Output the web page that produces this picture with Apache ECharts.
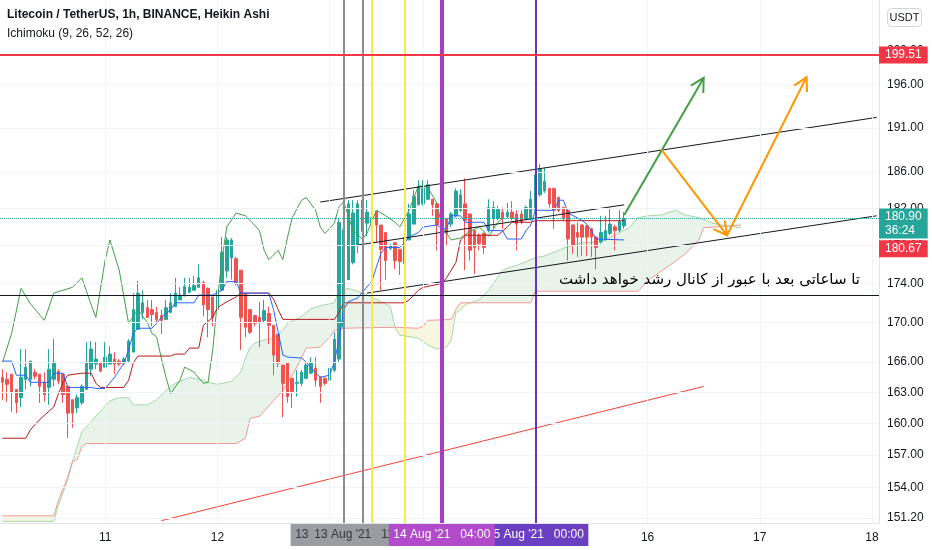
<!DOCTYPE html>
<html>
<head>
<meta charset="utf-8">
<title>LTCUSDT 1h Heikin Ashi</title>
<script src="https://cdn.jsdelivr.net/npm/echarts@6/dist/echarts.min.js"></script>
<style>html,body{margin:0;padding:0;background:#fff;}</style>
</head>
<body>
<div id="main" style="width:932px;height:550px;"></div>
<script type="text/javascript">
// hourly slots (a 4h gap on 13 Aug), index = slot number
var hours = [];
for (var h = 0; h < 188; h++) hours.push(String(h));
var dayIdx = [22, 46, 138, 162, 186];
var dayNames = ['11', '12', '16', '17', '18'];
var dayGrid = [22, 46, 70, 90, 114, 138, 162, 186];
var tickVals = [200, 196, 191, 186, 182, 178, 174, 170, 166, 163, 160, 157, 154, 151.2];

// Heikin Ashi candles: [open, close, low, high]
var candles = [
[164.5,164.0,162.3,165.3],[164.3,163.8,162.1,165.0],[164.8,163.0,161.1,164.8],[163.3,162.0,161.0,163.3],
[162.5,164.5,161.6,167.3],[164.3,165.5,163.3,167.3],[164.3,166.1,163.6,166.1],[165.0,164.6,164.3,165.3],
[164.8,163.6,162.0,164.8],[164.0,162.8,162.1,165.0],[163.5,165.3,161.8,167.3],[164.3,166.0,163.6,168.3],
[165.1,164.1,163.8,165.3],[164.8,162.8,162.0,164.8],[163.6,161.0,158.6,163.6],[162.3,161.0,159.6,162.3],
[161.5,162.5,161.0,162.8],[162.0,163.6,161.8,163.8],[163.3,166.0,163.3,168.0],[165.3,167.3,164.6,168.1],
[165.8,166.3,165.3,168.0],[166.0,165.1,165.0,166.0],[165.5,166.5,165.5,168.0],[165.8,166.8,165.8,167.6],
[166.3,165.8,164.8,167.0],[166.1,165.8,165.6,166.3],[165.9,166.3,165.7,166.5],[166.1,168.1,165.9,168.3],
[167.0,171.3,167.0,173.0],[169.3,173.0,169.3,174.3],[171.0,172.0,170.3,173.3],[171.5,170.5,170.5,172.3],
[171.3,170.8,169.6,172.3],[171.0,170.3,170.0,171.6],[170.7,170.2,168.8,171.3],[170.3,171.5,170.3,172.3],
[171.0,172.0,171.0,173.0],[171.6,173.0,171.6,174.6],[172.3,172.8,172.3,173.6],[172.7,173.7,172.7,174.6],
[173.1,173.6,173.0,174.6],[173.3,173.8,173.3,174.8],[173.6,174.6,173.6,176.0],[174.1,171.8,170.6,174.3],
[173.5,171.3,168.5,173.6],[172.6,170.5,169.6,172.6],[171.3,173.3,170.1,173.5],[173.3,177.3,173.3,178.9],
[175.3,178.6,174.6,178.9],[176.7,178.6,174.4,178.8],[176.6,174.0,173.8,176.8],[175.4,170.5,167.2,175.4],
[173.0,169.5,168.5,173.0],[171.3,169.0,168.8,171.3],[170.7,169.9,169.6,170.7],[170.5,170.0,167.5,172.1],
[170.2,171.2,170.0,172.3],[170.9,169.7,167.8,171.6],[169.7,166.7,164.7,169.7],[168.8,165.9,165.5,168.8],
[165.7,163.9,160.6,165.7],[165.9,162.6,162.0,165.9],[164.4,163.1,161.5,164.4],[163.9,164.0,162.6,165.2],
[163.9,165.0,163.6,165.2],[164.4,165.7,164.3,166.0],[164.9,165.9,164.8,166.5],[165.4,164.2,163.6,166.5],
[164.5,163.6,162.0,164.6],[164.4,163.9,163.7,164.5],[164.2,165.4,164.0,166.2],[165.2,168.3,165.0,169.0],
[166.3,180.5,166.0,181.0],[169.5,179.7,168.0,181.2],[174.4,182.5,174.4,182.9],[176.2,181.5,176.0,182.9],
[178.0,182.5,177.2,182.9],[179.5,182.9,176.5,183.1],[180.4,181.6,179.0,182.9],[180.4,181.0,180.3,181.6],
[181.7,180.2,178.3,181.7],[180.2,177.6,173.3,180.2],[179.4,176.4,174.4,179.4],[177.7,178.0,177.5,178.2],
[178.3,176.4,175.5,178.3],[177.6,176.3,174.9,177.6],[176.1,178.9,176.1,180.3],[178.6,181.4,178.6,182.5],
[180.3,183.3,180.3,184.0],[182.4,184.4,182.4,185.1],[182.5,184.2,182.3,185.1],[183.0,184.6,182.9,185.1],
[183.0,182.4,181.2,183.0],[182.5,180.2,177.5,182.6],[181.6,179.6,177.2,181.6],[180.9,179.3,178.0,180.9],
[180.3,181.4,180.0,181.6],[181.2,183.9,181.0,184.2],[181.8,183.5,181.6,184.1],[182.5,180.7,175.4,185.3],
[181.4,177.5,176.4,181.4],[179.6,177.8,175.0,179.6],[179.1,178.2,177.5,179.3],[179.3,177.8,177.1,179.4],
[179.6,182.1,179.4,183.0],[180.9,182.1,179.8,182.8],[180.9,181.9,180.7,182.3],[181.6,180.9,179.8,182.1],
[181.1,181.6,180.9,182.6],[181.6,180.9,180.7,182.8],[181.4,180.3,177.5,181.8],[181.4,180.5,180.3,181.8],
[180.9,182.1,180.7,182.3],[180.9,183.0,180.7,183.9],[181.8,185.7,181.6,186.7],[183.5,186.4,183.3,186.9],
[183.9,185.0,183.7,186.5],[184.2,182.5,182.1,184.3],[184.2,181.8,179.8,184.3],[183.2,181.8,181.6,183.3],
[182.1,181.0,180.7,182.2],[181.8,178.7,176.4,181.9],[180.2,178.0,177.1,180.3],[179.4,178.9,176.8,180.5],
[180.2,178.9,176.9,180.3],[180.1,178.9,176.9,180.2],[179.8,178.9,176.8,179.9],[178.9,177.8,175.5,179.0],
[178.4,179.4,178.2,181.2],[178.7,179.6,178.5,181.2],[179.3,180.3,179.1,182.1],[180.0,179.6,177.5,180.2],
[179.6,180.6,179.4,181.8],[180.1,180.9,179.8,181.6]
];

// Ichimoku lines, [slot, price]
var tenkan = [[0,166.1],[2,166.1],[3,164.7],[5,164.7],[6,164.0],[10,164.0],[11,164.9],[13,164.9],[14,163.5],[19,163.5],
[20,163.4],[22,163.4],[24,164.5],[26,165.9],[27,167.2],[28,168.9],[29,169.4],[32,169.4],[33,169.9],[34,170.5],
[36,171.3],[37,172.0],[41,172.0],[42,172.8],[45,172.8],[47,173.3],[48,174.2],[50,174.2],[51,173.0],[57,173.0],
[58,171.3],[59,169.0],[60,166.7],[61,166.5],[64,166.4],[65,166.0],[66,165.4],[68,164.5],[70,164.7],[71,166.0],
[72,168.2],[73,171.3],[74,172.1],[76,172.5],[77,173.1],[79,174.2],[80,175.7],[81,177.2],[82,177.8],[85,177.8],
[86,178.3],[87,178.9],[89,179.4],[90,180.0],[93,180.2],[94,179.8],[95,179.8],[96,181.2],[98,181.2],[99,180.5],
[103,180.5],[104,179.6],[107,179.6],[108,178.7],[111,178.7],[112,179.6],[113,180.2],[114,181.8],[118,181.8],
[119,182.9],[120,182.9],[121,181.5],[124,180.7],[125,180.3],[126,179.6],[127,178.7],[133,178.6]];
var kijun = [[0,158.6],[5,158.6],[6,159.4],[7,159.9],[8,160.4],[11,161.6],[12,162.9],[13,164.0],[14,164.7],[17,164.9],
[19,164.9],[20,163.9],[21,163.5],[26,163.5],[27,164.2],[28,165.9],[29,166.6],[36,166.6],[37,166.8],[39,166.8],
[40,167.4],[42,167.4],[43,169.7],[45,170.5],[46,171.5],[48,172.1],[50,172.6],[51,173.0],[57,173.0],[58,172.4],
[59,171.3],[60,170.3],[71,170.3],[72,171.0],[73,172.0],[86,172.0],[87,172.3],[89,173.3],[90,173.6],[94,174.0],
[95,174.6],[96,175.4],[97,176.2],[98,178.6],[99,179.1],[106,179.1],[108,180.0],[109,180.5],[113,180.5],
[114,180.67],[133,180.67]];
var chikou = [[0,165.9],[2,168.9],[4,173.5],[6,171.9],[9,170.2],[11,173.0],[13,173.3],[15,173.6],[17,174.6],[19,171.8],
[20,170.5],[22,176.5],[23,178.6],[25,175.4],[27,169.9],[29,171.3],[31,170.0],[32,168.9],[33,168.5],[34,166.4],
[35,164.5],[36,162.9],[38,164.2],[39,165.5],[41,165.0],[43,163.9],[44,164.0],[45,167.2],[46,172.3],[47,176.6],
[48,180.0],[50,181.5],[52,181.2],[53,180.7],[55,179.6],[56,177.5],[57,176.5],[59,177.5],[60,176.5],[61,178.9],
[62,181.0],[64,182.9],[65,183.2],[67,181.8],[68,180.0],[69,179.3],[71,180.4],[72,182.2],[73,182.7],[74,181.2],
[75,179.6],[77,178.7],[78,179.3],[80,181.8],[82,181.2],[84,180.5],[85,180.0],[87,181.8],[89,184.5],[91,184.3],
[93,182.5],[94,180.0],[95,179.3],[96,178.6],[98,178.8],[100,179.5],[102,180.0],[104,179.0],[106,180.5],[107,180.9]];
var spanA = [[0,150.9],[11,150.9],[12,152.4],[14,154.7],[15,156.4],[17,159.2],[19,160.2],[21,161.2],[23,162.2],
[25,162.5],[27,162.5],[28,161.8],[31,161.8],[33,162.3],[35,163.2],[37,163.9],[40,164.5],[43,164.2],[44,164.0],
[46,163.8],[49,164.1],[51,165.0],[52,166.4],[53,167.5],[54,167.9],[56,168.2],[58,168.4],[60,169.2],[61,169.9],
[64,170.6],[65,171.0],[66,171.4],[68,171.7],[71,172.0],[72,173.2],[74,173.5],[76,173.2],[79,172.6],[81,172.1],
[83,171.6],[84,169.5],[85,168.7],[89,168.4],[91,167.7],[93,167.3],[95,167.5],[96,168.2],[97,171.0],[98,171.3],
[99,171.8],[100,172.0],[102,172.3],[104,173.3],[106,174.7],[107,175.4],[108,175.6],[110,175.9],[112,176.3],
[114,176.7],[116,176.9],[119,177.5],[121,177.9],[124,178.3],[128,178.4],[130,178.9],[132,179.4],[134,179.9],
[136,181.0],[138,181.2],[141,181.3],[144,181.8],[146,181.3],[149,181.0],[152,180.4],[155,180.1],[158,179.9]];
var spanB = [[0,151.4],[11,151.4],[12,152.8],[14,155.0],[15,156.4],[16,156.6],[17,157.8],[18,158.1],[50,158.1],
[52,158.6],[53,160.5],[55,160.7],[56,161.2],[58,162.2],[60,163.2],[62,164.7],[63,165.5],[65,167.4],[68,167.5],
[70,168.5],[71,169.2],[73,169.4],[84,169.5],[89,169.4],[90,169.6],[91,170.2],[96,170.3],[97,171.3],[98,172.0],
[100,172.0],[113,172.0],[114,173.2],[136,173.2],[138,174.3],[143,176.0],[146,177.1],[149,178.6],[150,179.9],
[155,180.1],[158,180.2]];
// cloud pieces between crossings: [from, to, bullish?]
var cloudSegs = [[0,15,0],[15,84,1],[84,100,0],[100,155,1],[155,158,0]];

// drawings
var channelTop = [[68,182.7],[187,192.2]];
var channelMid = [[76,178.05],[133,182.4]];
var channelLow = [[78,173.0],[187,181.2]];
var redTrend = [[34,150.96],[150,163.6]];
var greenArrows = [[[133,181.3],[150,196.8]]];
var orangeArrows = [[[141,188.5],[155,179.1]],[[155,179.1],[172,196.9]]];
var resistance = 199.51, support = 172.8;
var lastPrice = 180.90, kijunLast = 180.67;
var timeMarks = [[73,"13 Aug '21   07:00"],[77,"13 Aug '21   11:00"],[114,"15 Aug '21   00:00"],[94,"14 Aug '21   04:00"]];
var yellowMarks = [79, 86];

var FONT = 'Liberation Sans';
var myChart = echarts.init(document.getElementById('main'));

function cloudItem(params, api) {
    var seg = cloudSegs[params.dataIndex];
    var pts = [];
    spanA.forEach(function (p) { if (p[0] >= seg[0] && p[0] <= seg[1]) pts.push(api.coord(p)); });
    spanB.slice().reverse().forEach(function (p) { if (p[0] >= seg[0] && p[0] <= seg[1]) pts.push(api.coord(p)); });
    return {
        type: 'polygon',
        shape: {points: pts},
        style: {fill: seg[2] ? 'rgba(67,160,71,0.12)' : 'rgba(225,212,110,0.22)', stroke: null}
    };
}

function arrowRenderer(list, color) {
    return function (params, api) {
        var seg = list[params.dataIndex];
        var a = api.coord(seg[0]), b = api.coord(seg[1]);
        var ang = Math.atan2(b[1] - a[1], b[0] - a[0]);
        var len = 15, spread = 0.5;
        var h1 = [b[0] - len * Math.cos(ang - spread), b[1] - len * Math.sin(ang - spread)];
        var h2 = [b[0] - len * Math.cos(ang + spread), b[1] - len * Math.sin(ang + spread)];
        return {
            type: 'group',
            children: [
                {type: 'line', shape: {x1: a[0], y1: a[1], x2: b[0], y2: b[1]}, style: {stroke: color, lineWidth: 2}},
                {type: 'polyline', shape: {points: [h1, b, h2]}, style: {stroke: color, lineWidth: 2, fill: null}}
            ]
        };
    };
}

function plainLine(name, data, color, width, z) {
    return {
        name: name, type: 'line', data: data, symbol: 'none', z: z, clip: true,
        lineStyle: {color: color, width: width}, silent: true
    };
}

var gridMarks = tickVals.map(function (v) {
    return {yAxis: v, label: {formatter: v.toFixed(2)}};
}).concat(dayGrid.map(function (d) {
    return {xAxis: d, label: {show: false}};
}));

var vMarks = yellowMarks.map(function (d) {
    return {xAxis: d, lineStyle: {color: '#f9e94a', width: 2, type: 'solid'}, label: {show: false}};
}).concat(timeMarks.map(function (t) {
    var col, bg, fg, w;
    if (t[0] === 94) { col = '#a63dc2'; bg = '#b14bcb'; fg = '#fff'; w = 4; }
    else if (t[0] === 114) { col = '#5f37b8'; bg = '#6a3fc1'; fg = '#fff'; w = 2; }
    else { col = '#8a8c91'; bg = '#9b9da3'; fg = '#33363d'; w = 2; }
    return {
        xAxis: t[0],
        lineStyle: {color: col, width: w, type: 'solid'},
        label: {show: true, position: 'start', distance: 1, formatter: t[1], backgroundColor: bg,
            color: fg, padding: [5, 6, 5, 6], fontSize: 12, fontFamily: FONT, width: 94, align: 'center'}
    };
}));

var option = {
    animation: false,
    backgroundColor: '#ffffff',
    title: {
        text: 'Litecoin / TetherUS, 1h, BINANCE, Heikin Ashi',
        subtext: 'Ichimoku (9, 26, 52, 26)',
        left: 7, top: 9, padding: 0, itemGap: 7,
        textStyle: {fontSize: 12, fontWeight: 'bold', color: '#131722', fontFamily: FONT},
        subtextStyle: {fontSize: 12, color: '#131722', fontFamily: FONT}
    },
    grid: {left: 0, right: 53, top: 0, bottom: 27, containLabel: false},
    xAxis: {
        type: 'category',
        data: hours,
        boundaryGap: true,
        axisLine: {show: true, lineStyle: {color: '#e0e3eb'}},
        axisTick: {show: false},
        splitLine: {show: false},
        axisLabel: {
            interval: function (i) { return dayIdx.indexOf(i) >= 0; },
            formatter: function (v, i) { var k = dayIdx.indexOf(i); return k >= 0 ? dayNames[k] : ''; },
            color: '#131722', fontSize: 12, fontFamily: FONT, margin: 9
        }
    },
    yAxis: {
        type: 'log', logBase: 10, min: 150.75, max: 206.2, position: 'right',
        axisLine: {show: true, lineStyle: {color: '#e0e3eb'}},
        axisTick: {show: false}, axisLabel: {show: false}, splitLine: {show: false}
    },
    graphic: [
        {type: 'group', right: 10, top: 8, children: [
            {type: 'rect', shape: {x: 0, y: 0, width: 34, height: 18, r: 4},
             style: {fill: '#fff', stroke: '#d1d4dc', lineWidth: 1}},
            {type: 'text', x: 17, y: 9, style: {text: 'USDT', fill: '#131722', font: '11px ' + FONT,
             textAlign: 'center', textVerticalAlign: 'middle'}}
        ]},
        {type: 'text', right: 72, top: 273, z: 20,
         style: {text: 'تا ساعاتی بعد با عبور از کانال رشد خواهد داشت', fill: '#000000',
                 font: '15px DejaVu Sans'}}
    ],
    series: [
        {
            name: 'grid', type: 'line', data: [], z: 0, silent: true,
            markLine: {
                silent: true, symbol: 'none', animation: false,
                lineStyle: {color: '#f0f3fa', width: 1, type: 'solid'},
                label: {position: 'end', distance: 8, color: '#131722', fontSize: 12, fontFamily: FONT},
                data: gridMarks
            }
        },
        {
            name: 'cloud', type: 'custom', z: 1, silent: true, clip: true,
            data: cloudSegs.map(function (s) { return [s[0], 160]; }),
            renderItem: cloudItem
        },
        plainLine('Lead 1', spanA, '#a5d6a7', 1, 2),
        plainLine('Lead 2', spanB, '#ef9a9a', 1, 2),
        plainLine('trend', redTrend, '#f44336', 1, 2),
        {
            name: 'LTCUSDT', type: 'candlestick', data: candles, z: 3, barWidth: 3,
            itemStyle: {color: '#26a69a', color0: '#ef5350', borderColor: '#26a69a', borderColor0: '#ef5350', borderWidth: 1}
        },
        plainLine('Lagging Span', chikou, '#43a047', 1, 4),
        plainLine('Base Line', kijun, '#b71c1c', 1, 4),
        plainLine('Conversion Line', tenkan, '#2962ff', 1, 4),
        plainLine('channel top', channelTop, '#131722', 1, 4),
        plainLine('channel mid', channelMid, '#131722', 1, 4),
        plainLine('channel low', channelLow, '#131722', 1, 4),
        {
            name: 'verticals', type: 'line', data: [], z: 5, silent: true,
            markLine: {silent: true, symbol: 'none', animation: false, data: vMarks}
        },
        {
            name: 'up', type: 'custom', z: 6, silent: true, clip: false,
            data: greenArrows.map(function (s) { return s[0]; }),
            renderItem: arrowRenderer(greenArrows, '#43a047')
        },
        {
            name: 'path', type: 'custom', z: 6, silent: true, clip: false,
            data: orangeArrows.map(function (s) { return s[0]; }),
            renderItem: arrowRenderer(orangeArrows, '#ff9800')
        },
        {
            name: 'levels', type: 'line', data: [], z: 7, silent: true,
            markLine: {
                silent: true, symbol: 'none', animation: false,
                label: {position: 'end', distance: 0, fontSize: 12, fontFamily: FONT, color: '#fff', padding: [3, 6, 2, 6]},
                data: [
                    {yAxis: support, lineStyle: {color: '#131722', width: 1, type: 'solid'}, label: {show: false}},
                    {yAxis: resistance, lineStyle: {color: '#f23645', width: 2, type: 'solid'},
                     label: {formatter: resistance.toFixed(2), backgroundColor: '#f23645'}},
                    {yAxis: lastPrice, lineStyle: {color: '#26a69a', width: 1, type: 'dotted'},
                     label: {formatter: lastPrice.toFixed(2) + '\n36:24', backgroundColor: '#26a69a', lineHeight: 14,
                             padding: [1, 6, 1, 6], offset: [0, 5]}},
                    {yAxis: kijunLast, lineStyle: {color: 'rgba(0,0,0,0)', width: 1},
                     label: {show: true, formatter: kijunLast.toFixed(2), backgroundColor: '#f23645', color: '#fff',
                             offset: [0, 28]}}
                ]
            }
        }
    ]
};
myChart.setOption(option);
</script>
</body>
</html>
